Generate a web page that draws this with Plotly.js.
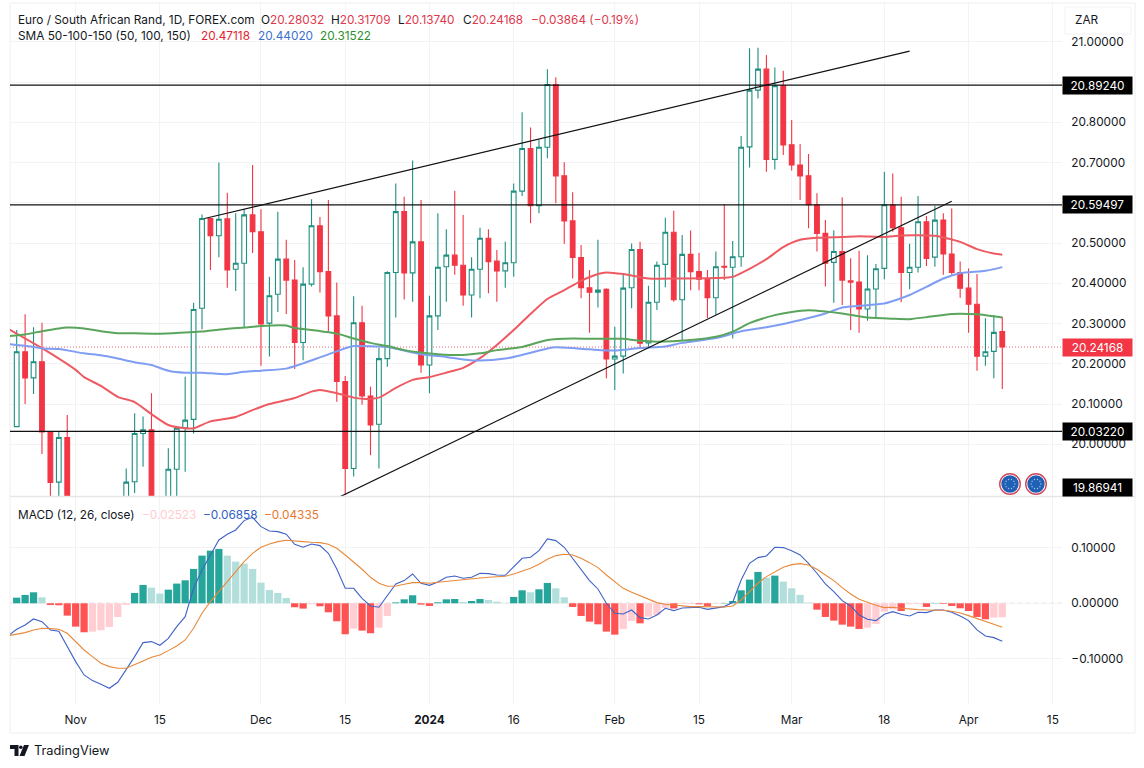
<!DOCTYPE html>
<html>
<head>
<meta charset="utf-8">
<script src="https://cdn.plot.ly/plotly-3.0.1.min.js"></script>
<style>html,body{margin:0;padding:0;background:#fff}#chart{width:1144px;height:768px}</style>
</head>
<body>
<div id="chart"></div>
<script>
// Daily candles EUR/ZAR, index 0 = late Oct 2023 ... 117 = 5 Apr 2024
const opens = [20.044,20.230,20.165,20.205,20.031,19.906,20.017,19.81,19.79,19.74,19.77,19.76,19.79,19.787,19.907,20.027,20.036,19.787,19.837,19.938,
20.041,20.062,20.338,20.561,20.518,20.560,20.435,20.450,20.570,20.528,20.301,20.373,20.460,20.408,20.253,20.398,20.543,20.429,20.319,20.156,
19.940,20.302,20.120,20.050,20.213,20.427,20.578,20.426,20.503,20.197,20.319,20.441,20.470,20.445,20.371,20.435,20.512,20.455,20.431,20.451,
20.629,20.735,20.593,20.738,20.894,20.667,20.555,20.464,20.389,20.378,20.385,20.212,20.219,20.389,20.484,20.252,20.353,20.447,20.527,20.359,
20.472,20.429,20.410,20.364,20.442,20.440,20.466,20.739,20.880,20.932,20.708,20.891,20.744,20.694,20.667,20.595,20.524,20.452,20.479,20.406,
20.403,20.336,20.386,20.437,20.595,20.538,20.427,20.440,20.553,20.465,20.557,20.473,20.427,20.388,20.348,20.219,20.231,20.28032];
const highs = [20.284,20.323,20.291,20.302,20.031,20.031,20.073,19.85,19.84,19.80,19.83,19.82,19.84,19.940,20.077,20.069,20.127,19.85,19.990,20.040,
20.168,20.352,20.571,20.561,20.700,20.625,20.574,20.584,20.694,20.584,20.416,20.578,20.508,20.458,20.440,20.609,20.565,20.607,20.402,20.170,
20.368,20.344,20.143,20.239,20.430,20.648,20.615,20.705,20.607,20.369,20.574,20.534,20.630,20.570,20.465,20.538,20.534,20.483,20.503,20.648,
20.825,20.787,20.756,20.932,20.912,20.701,20.626,20.495,20.433,20.508,20.388,20.292,20.425,20.499,20.503,20.394,20.454,20.563,20.580,20.520,
20.531,20.475,20.433,20.479,20.597,20.505,20.766,20.984,20.985,20.967,20.936,20.928,20.806,20.746,20.721,20.624,20.557,20.532,20.614,20.462,
20.481,20.470,20.448,20.677,20.673,20.615,20.498,20.617,20.567,20.593,20.574,20.586,20.454,20.437,20.423,20.313,20.321,20.31709];
const lows = [20.043,20.100,20.125,19.976,19.837,19.837,19.762,19.75,19.72,19.70,19.73,19.72,19.75,19.76,19.879,19.944,19.713,19.72,19.80,19.849,
19.932,20.027,20.286,20.433,20.465,20.389,20.381,20.291,20.475,20.195,20.218,20.329,20.324,20.187,20.209,20.392,20.377,20.280,20.106,19.874,
19.920,20.098,19.973,19.940,20.193,20.315,20.360,20.354,20.178,20.127,20.284,20.354,20.421,20.344,20.315,20.363,20.375,20.354,20.389,20.416,
20.617,20.549,20.574,20.711,20.599,20.498,20.412,20.363,20.277,20.340,20.164,20.135,20.176,20.338,20.237,20.242,20.334,20.390,20.354,20.259,
20.383,20.383,20.314,20.321,20.408,20.263,20.441,20.688,20.859,20.677,20.683,20.719,20.680,20.607,20.537,20.479,20.392,20.352,20.346,20.284,
20.277,20.307,20.313,20.410,20.528,20.353,20.385,20.427,20.443,20.441,20.421,20.421,20.364,20.277,20.183,20.195,20.164,20.1374];
const closes = [20.230,20.165,20.205,20.031,19.905,20.017,19.812,19.79,19.74,19.77,19.76,19.79,19.78,19.906,20.027,20.036,19.787,19.80,19.938,20.040,
20.060,20.335,20.561,20.518,20.559,20.433,20.450,20.570,20.528,20.299,20.369,20.460,20.408,20.253,20.398,20.543,20.429,20.319,20.156,19.940,
20.302,20.120,20.048,20.213,20.427,20.578,20.426,20.503,20.197,20.319,20.440,20.470,20.445,20.371,20.435,20.512,20.454,20.431,20.451,20.629,
20.735,20.593,20.738,20.894,20.667,20.555,20.464,20.389,20.378,20.383,20.212,20.219,20.388,20.484,20.251,20.353,20.445,20.527,20.359,20.472,
20.429,20.410,20.364,20.441,20.440,20.466,20.738,20.880,20.932,20.708,20.891,20.744,20.694,20.667,20.595,20.524,20.450,20.479,20.408,20.403,
20.336,20.386,20.436,20.595,20.538,20.427,20.440,20.553,20.462,20.557,20.473,20.427,20.388,20.348,20.219,20.230,20.278,20.24168];

const sma50Idx = [-1,3,7,8,10,12,14,16,18,20,21,23,26,28,30,33,35,36,38,40,41,43,45,47,49,51,53,55,57,59,61,63,65,67,69,70,72,75,79,83,85,87,89,91,93,95,98,100,103,105,109,112,114,116,117];
const sma50 = [20.287,20.239,20.185,20.167,20.145,20.118,20.105,20.075,20.048,20.040,20.040,20.057,20.068,20.085,20.100,20.115,20.131,20.135,20.127,20.116,20.113,20.116,20.140,20.160,20.167,20.178,20.190,20.214,20.247,20.284,20.324,20.361,20.383,20.406,20.423,20.427,20.423,20.412,20.412,20.413,20.416,20.436,20.460,20.490,20.508,20.513,20.515,20.517,20.515,20.519,20.518,20.503,20.485,20.474,20.47118];
const sma100Idx = [-1,2,3,5,8,10,12,14,16,18,20,22,25,27,29,32,34,36,38,40,43,44,48,51,53,55,58,60,63,64,68,71,74,77,79,83,86,89,91,94,96,98,100,103,105,106,108,110,112,115,117];
const sma100 = [20.249,20.242,20.238,20.237,20.226,20.221,20.213,20.204,20.197,20.183,20.178,20.178,20.174,20.180,20.183,20.188,20.201,20.216,20.231,20.244,20.243,20.242,20.224,20.217,20.211,20.208,20.213,20.222,20.238,20.241,20.236,20.233,20.239,20.243,20.252,20.264,20.281,20.291,20.299,20.314,20.325,20.340,20.344,20.350,20.363,20.371,20.391,20.412,20.425,20.431,20.4402];
const sma150Idx = [-1,1,3,5,6,8,10,12,14,17,20,22,25,27,29,32,33,35,38,40,42,44,46,48,50,53,55,57,60,63,66,69,72,74,76,80,83,85,87,90,92,94,96,98,101,104,106,108,111,114,117];
const sma150 = [20.269,20.273,20.281,20.288,20.290,20.288,20.281,20.276,20.276,20.275,20.278,20.280,20.287,20.290,20.294,20.295,20.289,20.284,20.275,20.263,20.252,20.244,20.234,20.228,20.224,20.222,20.226,20.234,20.242,20.259,20.263,20.262,20.262,20.257,20.255,20.259,20.267,20.280,20.301,20.321,20.329,20.333,20.330,20.325,20.315,20.312,20.311,20.316,20.324,20.323,20.31522];

const macdHist = [0.0102,0.0151,0.0199,0.0108,-0.003,-0.0036,-0.0223,-0.0422,-0.0524,-0.0512,-0.0488,-0.0428,-0.0247,-0.003,0.0187,0.0332,0.0283,0.0175,0.0247,0.0356,
0.0416,0.0621,0.0862,0.0952,0.0983,0.0862,0.0753,0.0717,0.0621,0.0374,0.0241,0.0187,0.0096,-0.0072,-0.0096,-0.0018,-0.0054,-0.0163,-0.0325,-0.056,
-0.0458,-0.0494,-0.0542,-0.044,-0.0229,0.0015,0.0072,0.0145,-0.0024,-0.0048,0.0018,0.0072,0.0078,0.0024,0.0042,0.0078,0.006,0.003,0.0006,0.0115,
0.0235,0.0199,0.0253,0.0368,0.0271,0.0108,-0.0066,-0.0229,-0.0332,-0.038,-0.0512,-0.0567,-0.0464,-0.0319,-0.0362,-0.0241,-0.0211,-0.0084,-0.0093,-0.0012,
-0.0012,-0.0018,-0.0048,-0.0006,0.0006,0.0042,0.0235,0.0428,0.0567,0.0464,0.05,0.0392,0.0271,0.0151,0.0012,-0.0115,-0.0247,-0.0313,-0.0386,-0.0422,
-0.0464,-0.044,-0.0374,-0.0151,-0.0109,-0.0139,-0.0018,-0.0016,-0.0066,0.0006,-0.0012,-0.0048,-0.009,-0.0139,-0.0247,-0.0289,-0.0259,-0.02523];
const macdIdx = [-1,0,1,2,3,4,5,6,7,8,9,10,11,12,13,14,15,16,17,18,19,
20,21,22,23,24,25,26,27,28,29,30,31,32,33,34,35,36,37,38,39,
40,41,42,43,44,45,46,47,48,49,50,51,52,53,54,55,56,57,58,59,
60,61,62,63,64,65,66,67,68,69,70,71,72,73,74,75,76,77,78,79,
80,81,82,83,84,85,86,87,88,89,90,91,92,93,94,95,96,97,98,99,
100,101,102,103,104,105,106,107,108,109,110,111,112,113,114,115,116,117];
const macdLine = [-0.0585,-0.047,-0.0392,-0.0283,-0.0332,-0.0482,-0.0506,-0.0784,-0.1055,-0.1296,-0.1398,-0.1465,-0.1537,-0.1429,-0.1206,-0.0964,-0.0711,-0.0693,-0.0759,-0.0633,-0.0422,
-0.0241,0.0271,0.0603,0.0874,0.1145,0.1248,0.1326,0.1495,0.1555,0.1386,0.1308,0.1296,0.1248,0.1067,0.1013,0.1073,0.1043,0.0904,0.0621,0.0271,
0.0271,0.009,-0.0048,-0.0072,0.0133,0.035,0.041,0.053,0.0362,0.0325,0.0386,0.047,0.0494,0.0452,0.047,0.0543,0.0536,0.0512,0.0506,0.0663,
0.0814,0.0832,0.0952,0.1163,0.1133,0.1013,0.0814,0.0603,0.041,0.0259,0,-0.0181,-0.0193,-0.0121,-0.0259,-0.0283,-0.0211,-0.009,-0.0133,-0.0084,
-0.0072,-0.0072,-0.0109,-0.0084,-0.006,0.0018,0.0422,0.0723,0.0826,0.0856,0.1013,0.1007,0.0952,0.0874,0.0723,0.0543,0.035,0.0211,0.0048,-0.0048,
-0.0211,-0.0289,-0.0313,-0.0199,-0.0151,-0.0199,-0.0229,-0.0163,-0.0169,-0.0121,-0.0121,-0.0163,-0.0229,-0.0313,-0.0482,-0.0591,-0.0621,-0.06858];
const macdSignal = [-0.0585,-0.0561,-0.053,-0.0482,-0.0452,-0.0458,-0.047,-0.0543,-0.0693,-0.0844,-0.0964,-0.1085,-0.1145,-0.1175,-0.1175,-0.1115,-0.1043,-0.0976,-0.0934,-0.0856,-0.0772,
-0.0663,-0.0452,-0.0181,0.003,0.0211,0.0392,0.0585,0.0753,0.0904,0.1013,0.1073,0.1115,0.1139,0.1133,0.1115,0.1103,0.1097,0.1067,0.0995,0.0874,
0.0753,0.0615,0.047,0.0362,0.0307,0.0313,0.0344,0.0374,0.0374,0.0362,0.038,0.0398,0.041,0.0422,0.044,0.0458,0.047,0.0482,0.0488,0.053,
0.0585,0.0633,0.0705,0.0796,0.0862,0.0886,0.0874,0.0814,0.0735,0.0645,0.0512,0.0392,0.0271,0.0199,0.0133,0.0072,0.0012,-0.0018,-0.0036,-0.0048,
-0.006,-0.006,-0.0066,-0.0072,-0.0066,-0.0048,0.006,0.0211,0.0362,0.0482,0.0573,0.0651,0.0699,0.0717,0.0693,0.0615,0.0512,0.041,0.0283,0.0169,
0.0072,0.0012,-0.0036,-0.0078,-0.0072,-0.009,-0.0109,-0.0115,-0.0121,-0.0121,-0.0127,-0.0145,-0.0175,-0.0223,-0.0271,-0.0319,-0.038,-0.04335];

const trendUpperIdx = [22.3,106];
const trendUpper = [20.561,20.977];
const trendLowerIdx = [38.4,111];
const trendLower = [19.870,20.604];
const levels = [20.8924,20.59497,20.0322];
const levelLabels = ['20.89240','20.59497','20.03220'];
const lastClose = 20.24168;
const bottomLabel = '19.86941';
const priceTicks = [21.0,20.9,20.8,20.7,20.6,20.5,20.4,20.3,20.2,20.1,20.0];
const priceTickLabels = ['21.00000','','20.80000','20.70000','','20.50000','20.40000','20.30000','20.20000','20.10000','20.00000'];
const macdTicks = [0.1,0,-0.1];
const macdTickLabels = ['0.10000','0.00000','−0.10000'];
const xTickIdx = [7,17,29,39,49,59,71,81,92,103,113,123];
const xTickLabels = ['Nov','15','Dec','15','<b>2024</b>','16','Feb','15','Mar','18','Apr','15'];

const idx = closes.map((_, i) => i);
const FONT = 'Inter, "Noto Sans", sans-serif';
const FS = 11.8;
const INK = '#131722', RED = '#f23645', TEAL = '#1f8f80';

// pixel helpers for the page furniture only (labels, frame, logo)
const L = 10, R = 1062, T = 3, B = 704;
const PX = p => (p - L) / (R - L);
const PY = p => (B - p) / (B - T);

const histColors = macdHist.map((v, i) => {
  const rising = i === 0 || v >= macdHist[i - 1];
  return v >= 0 ? (rising ? '#26a69a' : '#b2dfdb') : (rising ? '#ffcdd2' : '#ff5252');
});

const smooth = (color) => ({color:color, width:2, shape:'spline', smoothing:0.6});
const traces = [
  {type:'bar', x:idx, y:macdHist, xaxis:'x', yaxis:'y2', width:0.86, marker:{color:histColors, line:{width:0}}, hoverinfo:'skip'},
  {type:'scatter', mode:'lines', x:macdIdx, y:macdLine, xaxis:'x', yaxis:'y2', line:{color:'#3f62c6', width:1.1}},
  {type:'scatter', mode:'lines', x:macdIdx, y:macdSignal, xaxis:'x', yaxis:'y2', line:{color:'#e8893a', width:1.1}},
  {type:'candlestick', x:idx, open:opens, high:highs, low:lows, close:closes, xaxis:'x', yaxis:'y', whiskerwidth:0,
   increasing:{line:{color:TEAL, width:1.1}, fillcolor:'#ffffff'},
   decreasing:{line:{color:RED, width:1.1}, fillcolor:RED}},
  {type:'scatter', mode:'lines', x:sma50Idx, y:sma50, xaxis:'x', yaxis:'y', line:smooth('#ee5a62')},
  {type:'scatter', mode:'lines', x:sma100Idx, y:sma100, xaxis:'x', yaxis:'y', line:smooth('#7f9df2')},
  {type:'scatter', mode:'lines', x:sma150Idx, y:sma150, xaxis:'x', yaxis:'y', line:smooth('#5aa55c')},
  {type:'scatter', mode:'lines', x:trendUpperIdx, y:trendUpper, xaxis:'x', yaxis:'y', line:{color:'#111', width:1.2}},
  {type:'scatter', mode:'lines', x:trendLowerIdx, y:trendLower, xaxis:'x', yaxis:'y', line:{color:'#111', width:1.2}}
];

const shapes = [];
levels.forEach(v => shapes.push({type:'line', xref:'paper', x0:0, x1:1, yref:'y', y0:v, y1:v, line:{color:'#111', width:1.2}, layer:'above'}));
shapes.push({type:'line', xref:'paper', x0:0, x1:1, yref:'y', y0:lastClose, y1:lastClose, line:{color:'rgba(242,54,69,0.75)', width:1, dash:'1px,2px'}, layer:'below'});
shapes.push({type:'line', xref:'paper', x0:0, x1:1, yref:'y2', y0:0, y1:0, line:{color:'#b5b5b5', width:1, dash:'4px,4px'}, layer:'below'});
// frame and pane separator
const frame = '#eeeeee';
shapes.push({type:'rect', xref:'paper', yref:'paper', x0:PX(10), x1:PX(1135), y0:PY(733), y1:PY(3), line:{color:frame, width:1}, fillcolor:'rgba(0,0,0,0)', layer:'below'});
shapes.push({type:'line', xref:'paper', yref:'paper', x0:PX(10), x1:PX(1135), y0:PY(496.5), y1:PY(496.5), line:{color:'#e6e6e6', width:1.5}});
// ZAR currency box
shapes.push({type:'rect', xref:'paper', yref:'paper', x0:PX(1065), x1:PX(1131), y0:PY(34), y1:PY(7), line:{color:'#f2f2f2', width:1}, fillcolor:'#fff'});
// EU flag badges
[1010, 1036].forEach(cx => {
  const cy = 484;
  const circ = (r, fill, line) => ({type:'circle', xref:'paper', yref:'paper', x0:PX(cx-r), x1:PX(cx+r), y0:PY(cy+r), y1:PY(cy-r), fillcolor:fill, line:{color:line, width:1.4}, layer:'above'});
  shapes.push(circ(10.3, '#ffffff', '#d1495b'));
  shapes.push(circ(8, '#1f5fb4', '#1f5fb4'));
  for (let k = 0; k < 10; k++) {
    const a = k * Math.PI / 5, x = cx + 4.8 * Math.cos(a), y = cy + 4.8 * Math.sin(a), r = 0.7;
    shapes.push({type:'circle', xref:'paper', yref:'paper', x0:PX(x-r), x1:PX(x+r), y0:PY(y+r), y1:PY(y-r), fillcolor:'#9fc3ea', line:{width:0}, layer:'above'});
  }
});
// TradingView mark
const P = pts => 'M' + pts.map(p => PX(p[0]) + ',' + PY(p[1])).join('L') + 'Z';
shapes.push({type:'path', xref:'paper', yref:'paper', path:P([[10,745],[18.5,745],[18.5,756],[14.5,756],[14.5,749],[10,749]]), fillcolor:INK, line:{width:0}});
shapes.push({type:'circle', xref:'paper', yref:'paper', x0:PX(19), x1:PX(22.6), y0:PY(749), y1:PY(745.4), fillcolor:INK, line:{width:0}});
shapes.push({type:'path', xref:'paper', yref:'paper', path:P([[24,745],[29,745],[24.5,756],[19.5,756]]), fillcolor:INK, line:{width:0}});

const note = (px, py, text, color, size) => ({
  xref:'paper', yref:'paper', x:PX(px - 1), y:PY(py), xanchor:'left', yanchor:'middle', showarrow:false,
  text:text, font:{family:FONT, size:size || FS, color:color || INK}, borderpad:0
});
const red = '#e0384c';
const seg = (lbl, val) => lbl + '<span style="color:' + red + '">' + val + '</span>';
const annotations = [
  note(18, 20, 'Euro / South African Rand, 1D, FOREX.com'),
  note(261, 20, seg('O','20.28032')),
  note(331, 20, seg('H','20.31709')),
  note(398, 20, seg('L','20.13740')),
  note(463, 20, seg('C','20.24168')),
  note(531, 20, '−0.03864 (−0.19%)', red),
  note(18, 36, 'SMA 50-100-150 (50, 100, 150)'),
  note(201, 36, '20.47118', '#e5222f'),
  note(258, 36, '20.44020', '#3f6fd0'),
  note(319.5, 36, '20.31522', '#2f8f2f'),
  note(18, 515, 'MACD (12, 26, close)'),
  note(142, 515, '−0.02523', '#ffcdd2'),
  note(203, 515, '−0.06858', '#2f5fc4'),
  note(264, 515, '−0.04335', '#e8772e'),
  note(1075, 20, 'ZAR'),
  note(34, 750.5, 'TradingView', INK, 12.8)
];
const tag = (yVal, txt, bg, yshift) => ({
  xref:'paper', yref:'y', x:PX(1062), y:yVal, xanchor:'left', yanchor:'middle', showarrow:false,
  text:txt, bgcolor:bg, font:{family:FONT, size:FS, color:'#fff'}, width:69, height:17, align:'center', borderpad:0, yshift:yshift || 0
});
levels.forEach((v, i) => annotations.push(tag(v, levelLabels[i], '#000')));
// the bottom tag sits at the foot of the pane, so it is pinned just inside the axis range
annotations.push(tag(19.8716, bottomLabel, '#000', 9));
annotations.push(tag(lastClose, '20.24168', RED));

const axisFont = {family:FONT, size:FS, color:INK};
const layout = {
  width:1144, height:768, autosize:false, showlegend:false, paper_bgcolor:'#fff', plot_bgcolor:'#fff',
  margin:{l:L, r:1144-R, t:T, b:768-B, pad:0}, boxgap:0.2,
  font:{family:FONT, size:FS, color:INK},
  xaxis:{domain:[0,1], range:[-0.795,124.09], anchor:'y2', tickmode:'array', tickvals:xTickIdx, ticktext:xTickLabels,
    showgrid:true, gridcolor:'#f3f3f3', gridwidth:1, zeroline:false, showline:false, ticks:'outside', ticklen:5, tickcolor:'rgba(0,0,0,0)',
    tickangle:0, tickfont:axisFont, rangeslider:{visible:false}, fixedrange:true},
  yaxis:{domain:[(B-496)/(B-T),1], range:[19.8716,21.0964], side:'right', anchor:'x', tickmode:'array', tickvals:priceTicks,
    ticktext:priceTickLabels, showgrid:true, gridcolor:'#f3f3f3', zeroline:false, showline:false, ticks:'outside', ticklen:6, tickcolor:'rgba(0,0,0,0)',
    tickfont:axisFont, fixedrange:true},
  yaxis2:{domain:[0,(B-497)/(B-T)], range:[-0.1821,0.1922], side:'right', anchor:'x', tickmode:'array', tickvals:macdTicks,
    ticktext:macdTickLabels, showgrid:true, gridcolor:'#f3f3f3', zeroline:false, showline:false, ticks:'outside', ticklen:6, tickcolor:'rgba(0,0,0,0)',
    tickfont:axisFont, fixedrange:true},
  shapes:shapes, annotations:annotations
};
Plotly.newPlot('chart', traces, layout, {displayModeBar:false, staticPlot:true});
</script>
</body>
</html>
